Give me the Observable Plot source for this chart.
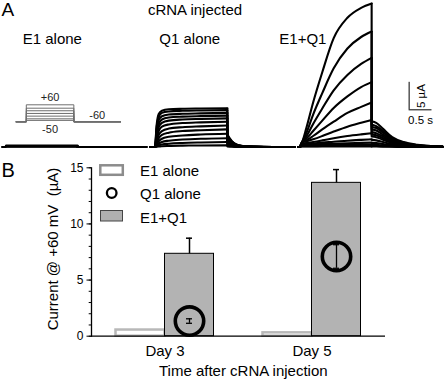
<!DOCTYPE html>
<html><head><meta charset="utf-8">
<script src="https://cdn.jsdelivr.net/npm/d3@7"></script>
<script src="https://cdn.jsdelivr.net/npm/@observablehq/plot@0.6"></script>
<style>
body{margin:0;background:#fff;}
#fig{position:relative;width:444px;height:380px;font-family:"Liberation Sans",Arial,sans-serif;}
#fig svg{position:absolute;left:0;overflow:visible;}
</style></head><body><div id="fig"></div>
<script>
// ================= Panel A data: current traces (µA vs s) =================
const panels = ["E1 alone", "Q1 alone", "E1+Q1"];
const pulseOnset = [0.06, 0.10, 0.02];   // s, per panel
const pulseDuration = 1.58;              // s
const sweepLength = 3.15;                // s

const e1RiseTimes = [0, 0.02, 1.58];
const e1Rise = [[0,0.25,0.25],[0,0.18,0.18],[0,0.12,0.12],[0,0.06,0.06]];
const e1TailTimes = [0];
const e1Tail = [[0],[0],[0],[0]];

const q1RiseTimes = [0, 0.03, 0.08, 0.15, 0.3, 0.6, 1.0, 1.58];
const q1Rise = [
  [0, 3.6, 6.0, 6.6, 6.85, 6.95, 7.0, 7.05],
  [0, 3.2, 5.5, 6.2, 6.45, 6.58, 6.65, 6.7],
  [0, 2.7, 4.9, 5.6, 5.9, 6.05, 6.12, 6.2],
  [0, 2.2, 4.2, 5.0, 5.35, 5.52, 5.62, 5.7],
  [0, 1.8, 3.6, 4.4, 4.8, 5.0, 5.1, 5.2],
  [0, 1.4, 2.9, 3.7, 4.1, 4.35, 4.48, 4.6],
  [0, 1.0, 2.2, 2.9, 3.35, 3.6, 3.75, 3.9],
  [0, 0.7, 1.6, 2.2, 2.6, 2.9, 3.05, 3.2],
  [0, 0.45, 1.05, 1.5, 1.85, 2.1, 2.27, 2.4],
  [0, 0.25, 0.6, 0.9, 1.15, 1.35, 1.5, 1.6],
  [0, 0.12, 0.3, 0.45, 0.6, 0.74, 0.83, 0.9],
  [0, 0.04, 0.1, 0.15, 0.2, 0.25, 0.28, 0.3]
];
const q1TailTimes = [0, 0.05, 0.1, 0.2, 0.35, 0.6, 1.0];
const q1Tail = [
  [2.3, 1.6, 1.05, 0.45, 0.16, 0.05, 0],
  [2.2, 1.5, 1.0, 0.43, 0.15, 0.04, 0],
  [2.0, 1.4, 0.9, 0.4, 0.14, 0.04, 0],
  [1.85, 1.3, 0.83, 0.37, 0.13, 0.04, 0],
  [1.7, 1.2, 0.76, 0.34, 0.12, 0.03, 0],
  [1.5, 1.05, 0.68, 0.3, 0.1, 0.03, 0],
  [1.3, 0.9, 0.58, 0.26, 0.09, 0.03, 0],
  [1.05, 0.73, 0.47, 0.21, 0.07, 0.02, 0],
  [0.8, 0.56, 0.36, 0.16, 0.06, 0.02, 0],
  [0.52, 0.36, 0.23, 0.1, 0.04, 0.01, 0],
  [0.3, 0.21, 0.13, 0.06, 0.02, 0.01, 0],
  [0.1, 0.07, 0.04, 0.02, 0.01, 0, 0]
];

const eqRiseTimes = [0, 0.06, 0.15, 0.3, 0.5, 0.75, 1.05, 1.35, 1.58];
const eqRise = [
  [0, 0.9, 3.4, 8.1, 13.6, 19.8, 23.5, 25.3, 26.1],
  [0, 0.9, 2.5, 5.9, 9.8, 14.3, 17.9, 20.0, 21.0],
  [0, 0.9, 1.9, 4.2, 7.0, 10.3, 13.1, 15.1, 16.2],
  [0, 0.9, 1.5, 2.9, 4.8, 7.1, 9.2, 10.9, 11.8],
  [0, 0.9, 1.2, 2.0, 3.2, 4.6, 6.2, 7.3, 8.1],
  [0, 0.8, 1.0, 1.4, 2.0, 2.8, 3.7, 4.4, 4.9],
  [0, 0.6, 0.7, 0.9, 1.2, 1.6, 2.0, 2.3, 2.5],
  [0, 0.5, 0.55, 0.65, 0.8, 0.95, 1.15, 1.3, 1.4],
  [0, 0.4, 0.42, 0.47, 0.53, 0.6, 0.68, 0.75, 0.8],
  [0, 0.3, 0.31, 0.33, 0.35, 0.38, 0.41, 0.43, 0.45],
  [0, 0.15, 0.15, 0.16, 0.17, 0.18, 0.19, 0.2, 0.2],
  [0, 0.08, 0.08, 0.08, 0.09, 0.09, 0.1, 0.1, 0.1]
];
const eqTailTimes = [0, 0.1, 0.25, 0.45, 0.7, 1.0, 1.3, 1.55];
const eqTail = [
  [4.7, 4.4, 3.3, 1.8, 0.9, 0.42, 0.18, 0.07],
  [4.1, 3.8, 2.9, 1.56, 0.78, 0.37, 0.16, 0.06],
  [3.7, 3.45, 2.6, 1.4, 0.7, 0.33, 0.15, 0.06],
  [3.2, 3.0, 2.24, 1.22, 0.61, 0.29, 0.13, 0.05],
  [2.7, 2.5, 1.9, 1.03, 0.51, 0.24, 0.11, 0.04],
  [2.3, 2.14, 1.6, 0.87, 0.44, 0.21, 0.09, 0.03],
  [1.9, 1.77, 1.33, 0.72, 0.36, 0.17, 0.08, 0.03],
  [1.3, 1.2, 0.91, 0.49, 0.25, 0.12, 0.05, 0.02],
  [0.75, 0.7, 0.53, 0.29, 0.14, 0.07, 0.03, 0.01],
  [0.42, 0.39, 0.29, 0.16, 0.08, 0.04, 0.02, 0.01],
  [0.2, 0.19, 0.14, 0.08, 0.04, 0.02, 0.01, 0],
  [0.1, 0.09, 0.07, 0.04, 0.02, 0.01, 0, 0]
];

// scale bar sizes (µA, s)
const scaleBarCurrent = 5;
const scaleBarTime = 0.5;

// voltage protocol inset (schematic)
const protocolTimes = [0, 0.34, 1.94, 3.51];
const holdingMV = -60;
const stepMV = [60, 36, 18, -1, -20, -39, -50];

// ================= Panel B data =================
const days = ["Day 3", "Day 5"];
const e1AloneCurrent = [0.55, 0.3];
const q1AloneCurrent = [1.35, 7.1];
const q1AloneSem = [0.2, 1.05];
const e1q1Current = [7.34, 13.66];
const e1q1Sem = [1.39, 1.18];
const yTicks = [0, 5, 10, 15];
const yMinorTicks = [0,1,2,3,4,5,6,7,8,9,10,11,12,13,14,15];

const FONT = '"Liberation Sans", Arial, sans-serif';
const fig = document.getElementById("fig");

// ---------- build trace table ----------
const sets = [
  [e1RiseTimes, e1Rise, e1TailTimes, e1Tail],
  [q1RiseTimes, q1Rise, q1TailTimes, q1Tail],
  [eqRiseTimes, eqRise, eqTailTimes, eqTail]
];
const tracePts = [], drops = [];
sets.forEach(([rt, rise, tt, tail], p) => {
  const panel = panels[p], on = pulseOnset[p], end = on + pulseDuration;
  rise.forEach((row, k) => {
    const key = panel + "-" + k;
    tracePts.push({panel, key: key + "r", t: 0, i: 0});
    row.forEach((v, j) => tracePts.push({panel, key: key + "r", t: on + rt[j], i: v}));
    tail[k].forEach((v, j) => tracePts.push({panel, key: key + "t", t: end + tt[j], i: v}));
    if (end + tt[tt.length - 1] < sweepLength - 1e-6)
      tracePts.push({panel, key: key + "t", t: sweepLength, i: 0});
    drops.push({panel, t: end, i1: tail[k][0], i2: row[row.length - 1]});
  });
});

const barAnchor = {panel: "E1+Q1", t: 2.42, i: 6.76}; // placement of scale bar

const plotA = Plot.plot({
  width: 444, height: 150,
  marginTop: 0, marginBottom: 3.5, marginLeft: 1.5, marginRight: 0.5,
  style: {fontFamily: FONT, background: "transparent", color: "black"},
  fx: {domain: panels, paddingInner: 0.025, paddingOuter: 0, axis: null},
  x: {domain: [0, sweepLength], axis: null},
  y: {domain: [0, 146.5 / 5.5], axis: null},
  marks: [
    Plot.line(tracePts, {fx: "panel", x: "t", y: "i", z: "key", curve: "monotone-x",
      stroke: "black", strokeWidth: 2.1}),
    Plot.ruleX(drops, {fx: "panel", x: "t", y1: "i1", y2: "i2", stroke: "black", strokeWidth: 2.1}),
    Plot.ruleX([barAnchor], {fx: "panel", x: "t", y1: "i", y2: d => d.i + scaleBarCurrent, strokeWidth: 1}),
    Plot.ruleY([barAnchor], {fx: "panel", y: "i", x1: "t", x2: d => d.t + scaleBarTime, strokeWidth: 1}),
    Plot.text([barAnchor], {fx: "panel", x: d => d.t + scaleBarTime / 2, y: "i", text: () => "0.5 s",
      dy: 14, lineAnchor: "bottom", fontSize: 11.5}),
    Plot.text([barAnchor], {fx: "panel", x: "t", y: d => d.i + scaleBarCurrent / 2, text: () => "5 µA",
      rotate: -90, dx: 16, lineAnchor: "bottom", fontSize: 11.5})
  ]
});
plotA.style.top = "0px";
fig.appendChild(plotA);

// ---------- protocol inset ----------
const protoPts = [];
stepMV.forEach(L => {
  [[protocolTimes[0], holdingMV], [protocolTimes[1], holdingMV], [protocolTimes[1], L],
   [protocolTimes[2], L], [protocolTimes[2], holdingMV], [protocolTimes[3], holdingMV]]
   .forEach(([t, v]) => protoPts.push({L, t, v}));
});
const stepMid = (protocolTimes[1] + protocolTimes[2]) / 2;
const tailMid = (protocolTimes[2] + protocolTimes[3]) / 2;
const inset = Plot.plot({
  width: 130, height: 50,
  marginLeft: 15.7, marginRight: 10, marginTop: 14.3, marginBottom: 18.7,
  style: {fontFamily: FONT, background: "transparent", color: "#222"},
  x: {domain: [protocolTimes[0], protocolTimes[3]], axis: null},
  y: {domain: [-60, 60], axis: null},
  marks: [
    Plot.line(protoPts, {x: "t", y: "v", z: "L", stroke: "#6e6e6e", strokeWidth: 1}),
    Plot.text([{t: stepMid, v: 60, s: "+60"}], {x: "t", y: "v", text: "s", dy: -4.3, lineAnchor: "bottom", fontSize: 11, fill: "#222"}),
    Plot.text([{t: stepMid, v: holdingMV, s: "-50"}], {x: "t", y: "v", text: "s", dy: 11, lineAnchor: "bottom", fontSize: 11, fill: "#222"}),
    Plot.text([{t: tailMid, v: holdingMV, s: "-60"}], {x: "t", y: "v", text: "s", dy: -3, lineAnchor: "bottom", fontSize: 11, fill: "#222"})
  ]
});
inset.style.top = "90px";
fig.appendChild(inset);

// ---------- Panel B ----------
const barsE1 = days.map((d, k) => ({day: d, series: "E1 alone", v: e1AloneCurrent[k]}));
const barsEQ = days.map((d, k) => ({day: d, series: "E1+Q1", v: e1q1Current[k], err: e1q1Sem[k]}));
const q1pts = days.map((d, k) => ({day: d, v: q1AloneCurrent[k], err: q1AloneSem[k]}));
const q1Col = () => "E1+Q1";   // Q1 markers sit on the E1+Q1 column

const plotB = Plot.plot({
  width: 444, height: 230,
  marginTop: 17.3, marginBottom: 44.3, marginLeft: 90.5, marginRight: 58,
  style: {fontFamily: FONT, fontSize: "15px", background: "transparent", color: "black"},
  fx: {domain: days, padding: 0, label: null},
  x: {domain: ["E1 alone", "E1+Q1"], paddingInner: 0, paddingOuter: 0.48, axis: null},
  y: {domain: [0, 15]},
  marks: [
    Plot.barY(barsE1, {fx: "day", x: "series", y: "v", fill: "white", stroke: "#b8b8b8", strokeWidth: 2.5}),
    Plot.barY(barsEQ, {fx: "day", x: "series", y: "v", fill: "#b3b3b3", stroke: "black", strokeWidth: 1}),
    Plot.ruleX(barsEQ, {fx: "day", x: "series", y1: "v", y2: d => d.v + d.err, strokeWidth: 1.5}),
    Plot.tickY(barsEQ, {fx: "day", x: "series", y: d => d.v + d.err, insetLeft: 21.5, insetRight: 21.5, strokeWidth: 1.5}),
    Plot.dot(q1pts, {fx: "day", x: q1Col, y: "v", r: 14.2, stroke: "black", strokeWidth: 3.6, fill: "none"}),
    Plot.ruleX(q1pts, {fx: "day", x: q1Col, y1: d => d.v - d.err, y2: d => d.v + d.err, strokeWidth: 1.3}),
    Plot.tickY(q1pts, {fx: "day", x: q1Col, y: d => d.v - d.err, insetLeft: 21.5, insetRight: 21.5, strokeWidth: 1.3}),
    Plot.tickY(q1pts, {fx: "day", x: q1Col, y: d => d.v + d.err, insetLeft: 21.5, insetRight: 21.5, strokeWidth: 1.3}),
    Plot.ruleY([0], {strokeWidth: 1.3}),
    Plot.frame({anchor: "left", facetAnchor: "left", strokeWidth: 1.3}),
    Plot.axisY({ticks: yMinorTicks, tickSize: 2.3, tickFormat: () => "", label: null}),
    Plot.axisY({ticks: yTicks, tickSize: 4.5, tickPadding: 3.5, fontSize: 12, label: null}),
    Plot.axisFx({anchor: "bottom", tickSize: 0, tickPadding: 9, fontSize: 15, label: null})
  ]
});
plotB.style.top = "150px";
fig.appendChild(plotB);

// ---------- annotations, legend, axis titles ----------
const ov = d3.select(fig).append("svg")
  .attr("width", 444).attr("height", 380)
  .style("top", "0px").style("pointer-events", "none")
  .attr("font-family", FONT).attr("font-size", 15).attr("fill", "black");
const T = (x, y, s, o = {}) => {
  const t = ov.append("text").attr("x", x).attr("y", y).text(s);
  Object.entries(o).forEach(([k, v]) => t.attr(k, v));
  return t;
};
T(1.5, 15.5, "A", {"font-size": 19});
T(1.5, 177, "B", {"font-size": 20});
T(195, 15, "cRNA injected", {"text-anchor": "middle"});
T(22.7, 44, "E1 alone");
T(159.3, 44, "Q1 alone");
T(279.3, 44, "E1+Q1");
// legend
ov.append("rect").attr("x", 100.3).attr("y", 165.3).attr("width", 22.5).attr("height", 9.5)
  .attr("fill", "white").attr("stroke", "#8c8c8c").attr("stroke-width", 2.5);
ov.append("circle").attr("cx", 111.7).attr("cy", 193).attr("r", 4.8)
  .attr("fill", "none").attr("stroke", "black").attr("stroke-width", 2.3);
ov.append("rect").attr("x", 100.5).attr("y", 210.5).attr("width", 22).attr("height", 10.5)
  .attr("fill", "#b0b0b0").attr("stroke", "#444").attr("stroke-width", 1);
T(140, 175.5, "E1 alone");
T(140, 199, "Q1 alone");
T(140, 222.5, "E1+Q1");
// axis titles
T(0, 0, "Current @ +60 mV\u00a0 (µA)", {"text-anchor": "middle", transform: "translate(58,249) rotate(-90)"});
T(243.3, 376, "Time after cRNA injection", {"text-anchor": "middle"});
</script></body></html>
